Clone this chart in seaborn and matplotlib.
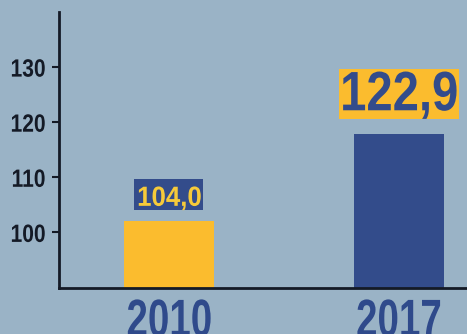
import matplotlib
matplotlib.use("Agg")
import matplotlib.pyplot as plt
import seaborn as sns
import pandas as pd
from matplotlib.patheffects import AbstractPathEffect
from matplotlib.transforms import Affine2D
from matplotlib.path import Path
from matplotlib.colors import to_rgba

years = ["2010", "2017"]
bar_values = [102.1, 117.8]
value_labels = ["104,0", "122,9"]
yticks = [100, 110, 120, 130]

BG = "#9ab3c6"
YELLOW = "#fbbc2e"
BLUE = "#334c8b"
DARK = "#141a26"
YEARBLUE = "#2f4a8b"
LABELYELLOW = "#f6ca3a"


class Squeeze(AbstractPathEffect):
    """Draw text horizontally condensed (like a condensed typeface), optionally on a box."""

    def __init__(self, sx, anchor="center", box=None, pad=(0, 0, 0, 0)):
        super().__init__()
        self.sx = sx
        self.anchor = anchor
        self.box = box
        self.pad = pad

    def draw_path(self, renderer, gc, tpath, affine, rgbFace=None):
        ext = tpath.get_extents()
        if self.anchor == "right":
            cx = ext.x1
        elif self.anchor == "left":
            cx = ext.x0
        else:
            cx = (ext.x0 + ext.x1) / 2
        t = Affine2D().translate(-cx, 0).scale(self.sx, 1).translate(cx, 0) + affine
        if self.box is not None:
            e = tpath.get_extents(t)
            l, r, tp, b = self.pad
            rect = Path([(e.x0 - l, e.y0 - b), (e.x1 + r, e.y0 - b),
                         (e.x1 + r, e.y1 + tp), (e.x0 - l, e.y1 + tp),
                         (e.x0 - l, e.y0 - b)], closed=True)
            gc2 = renderer.new_gc()
            gc2.copy_properties(gc)
            gc2.set_linewidth(0)
            renderer.draw_path(gc2, rect, Affine2D(), to_rgba(self.box))
            gc2.restore()
        renderer.draw_path(gc, tpath, t, rgbFace)


sns.set_theme(style="white")
plt.rcParams["font.family"] = ["Liberation Sans", "DejaVu Sans"]
plt.rcParams["font.weight"] = "bold"

fig = plt.figure(figsize=(4.67, 3.34), dpi=100, facecolor=BG)
ax = fig.add_axes([59 / 467, 1 - 287.5 / 334, 1 - 59 / 467, (287.5 - 12) / 334])
ax.set_facecolor(BG)

df = pd.DataFrame({"year": years, "value": bar_values})
sns.barplot(data=df, x="year", y="value", hue="year", palette=[YELLOW, BLUE],
            width=0.392, legend=False, ax=ax, saturation=1,
            linewidth=0, edgecolor="none")

ax.set_ylim(90, 140)
ax.set_xlim(-0.481, 1.296)
ax.set_yticks(yticks)
ax.set_yticklabels([str(t) for t in yticks], fontsize=18, color=DARK, fontweight="bold")
ax.set_xticks([0, 1])
ax.set_xticklabels(years, fontsize=38, color=YEARBLUE, fontweight="bold")
ax.tick_params(axis="y", length=5, width=1.5, color=DARK, pad=4.5, left=True)
ax.tick_params(axis="x", length=0, pad=7)
ax.set_xlabel("")
ax.set_ylabel("")

for lab in ax.get_yticklabels():
    lab.set_path_effects([Squeeze(0.84, anchor="right")])
for lab in ax.get_xticklabels():
    lab.set_path_effects([Squeeze(0.73)])

for s in ["top", "right"]:
    ax.spines[s].set_visible(False)
for s in ["left", "bottom"]:
    ax.spines[s].set_color(DARK)
    ax.spines[s].set_linewidth(2)

styles = [
    dict(fontsize=20, color=LABELYELLOW, box=BLUE, off=10.8, sx=0.93, pad=(5, 2, 7, 0)),
    dict(fontsize=40, color=BLUE, box=YELLOW, off=17.3, sx=0.85, pad=(4, 2, 3, 0)),
]
for i, (v, lab) in enumerate(zip(bar_values, value_labels)):
    st = styles[i]
    t = ax.annotate(lab, xy=(i, v), xytext=(0, st["off"]), textcoords="offset points",
                    ha="center", va="baseline", fontsize=st["fontsize"], color=st["color"],
                    fontweight="bold", annotation_clip=False)
    t.set_path_effects([Squeeze(st["sx"], box=st["box"], pad=st["pad"])])

fig.savefig("out.png", dpi=100, facecolor=BG)
